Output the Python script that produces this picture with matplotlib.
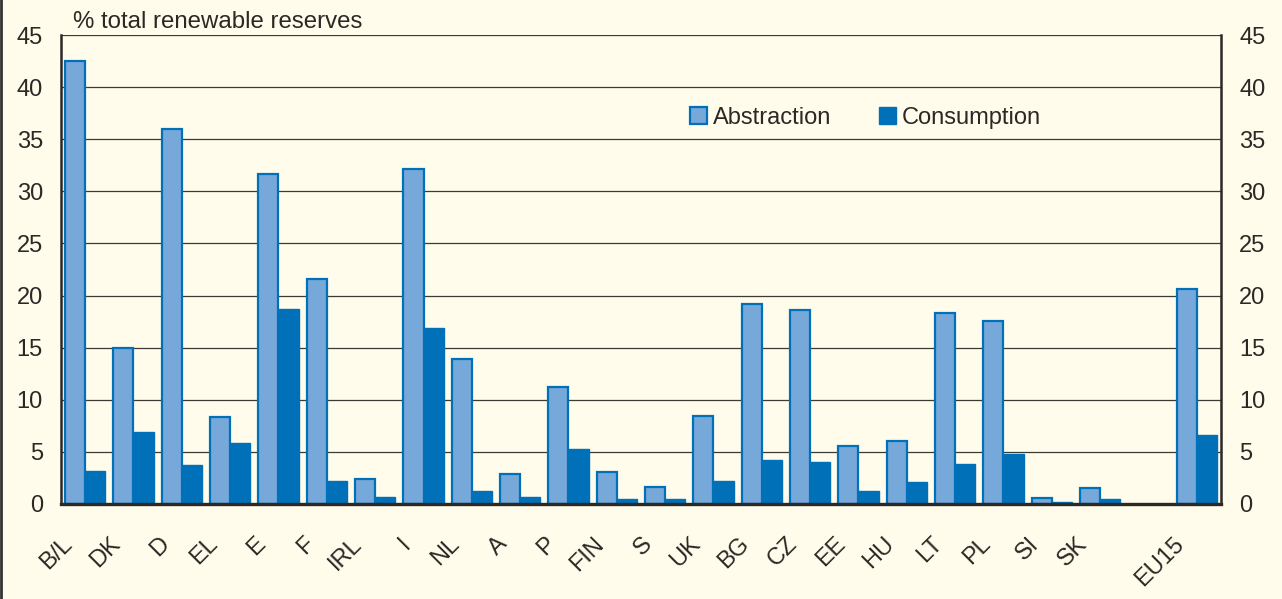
import matplotlib
matplotlib.use("Agg")
import matplotlib.pyplot as plt
import numpy as np
from matplotlib.transforms import ScaledTranslation
from matplotlib.lines import Line2D

categories = ["B/L", "DK", "D", "EL", "E", "F", "IRL", "I", "NL", "A", "P", "FIN",
              "S", "UK", "BG", "CZ", "EE", "HU", "LT", "PL", "SI", "SK", "", "EU15"]
abstraction = [42.5, 15.0, 36.0, 8.3, 31.7, 21.6, 2.4, 32.1, 13.9, 2.9, 11.2, 3.1,
               1.6, 8.4, 19.2, 18.6, 5.6, 6.0, 18.3, 17.6, 0.6, 1.5, np.nan, 20.6]
consumption = [3.2, 6.9, 3.7, 5.9, 18.7, 2.2, 0.7, 16.9, 1.2, 0.7, 5.3, 0.5,
               0.5, 2.2, 4.2, 4.0, 1.2, 2.1, 3.8, 4.8, 0.2, 0.5, np.nan, 6.6]
yticks = [0, 5, 10, 15, 20, 25, 30, 35, 40, 45]

bg = "#fffceb"
light = "#76a8d9"
dark = "#0070b8"
ink = "#2b2825"

plt.rcParams["font.family"] = ["Liberation Sans", "DejaVu Sans"]

fig = plt.figure(figsize=(12.82, 5.99), dpi=100, facecolor=bg)
ax = fig.add_axes([61/1282, 1 - 504/599, 1160/1282, (504-35)/599])
ax.set_facecolor(bg)

x = np.arange(len(categories))
w = 0.415
ax.bar(x - w/2, abstraction, w, color=light, edgecolor=dark, linewidth=1.6,
       label="Abstraction", zorder=3)
ax.bar(x + w/2, consumption, w, color=dark, edgecolor=dark, linewidth=1.0,
       label="Consumption", zorder=3)

ax.set_xlim(-0.5, len(categories) - 0.5)
ax.set_ylim(0, 45)
ax.set_yticks(yticks)
ax.yaxis.grid(True, color="#3d3934", linewidth=0.9)
ax.set_axisbelow(True)
ax.tick_params(axis="y", length=0, labelsize=17, pad=13, colors=ink,
               labelright=True, right=False)
ax.tick_params(axis="x", length=0)

ax.set_xticks(x)
ax.set_xticklabels([])
off = ScaledTranslation(-24/100, -29/100, fig.dpi_scale_trans)
for xi, lab in zip(x, categories):
    if not lab:
        continue
    ax.text(xi, 0, lab, rotation=45, rotation_mode="anchor", ha="right", va="top",
            fontsize=17, color=ink,
            transform=ax.get_xaxis_transform() + off)

ax.spines["top"].set_visible(False)
ax.spines["bottom"].set_linewidth(2.4)
ax.spines["left"].set_linewidth(1.8)
ax.spines["right"].set_linewidth(1.8)
for s in ["bottom", "left", "right"]:
    ax.spines[s].set_color(ink)
    ax.spines[s].set_zorder(4)

fig.text(73/1282, 1 - 22/599, "% total renewable reserves", fontsize=17.3,
         color=ink, ha="left", va="center")

leg = ax.legend(loc="center left", bbox_to_anchor=(681/1282, 1 - 118/599),
                bbox_transform=fig.transFigure, ncol=2, frameon=False,
                fontsize=17, handlelength=0.72, handleheight=0.72,
                handletextpad=0.25, columnspacing=2.0, borderaxespad=0)
for t in leg.get_texts():
    t.set_color(ink)

fig.add_artist(Line2D([0.001, 0.001], [0, 1], transform=fig.transFigure,
                      color="#333333", linewidth=2))

fig.savefig("out.png", dpi=100, facecolor=bg)
